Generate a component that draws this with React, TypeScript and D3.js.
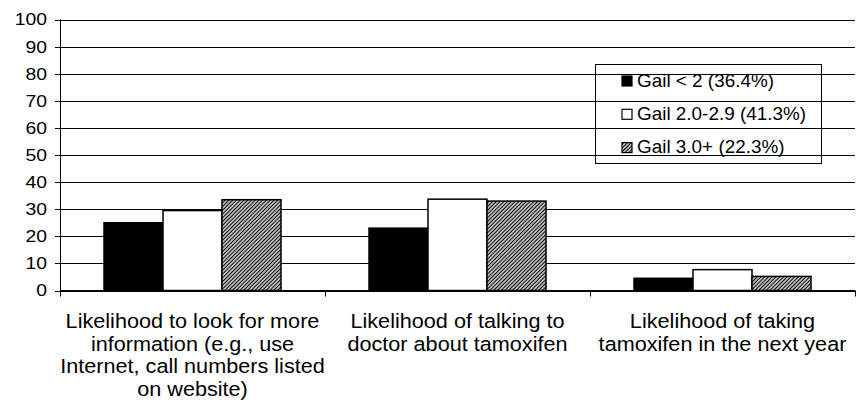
import React from 'react';
import * as d3 from 'd3';

const categories = ['look', 'talk', 'take'];
const categoryLines = [
  ['Likelihood to look for more', 'information (e.g., use', 'Internet, call numbers listed', 'on website)'],
  ['Likelihood of talking to', 'doctor about tamoxifen'],
  ['Likelihood of taking', 'tamoxifen in the next year'],
];
const seriesNames = ['Gail < 2 (36.4%)', 'Gail 2.0-2.9 (41.3%)', 'Gail 3.0+ (22.3%)'];
const gailLow = [25, 23, 4.5];
const gailMid = [29.5, 33.7, 7.7];
const gailHigh = [33.5, 33, 5.2];
const yTicks = [0, 10, 20, 30, 40, 50, 60, 70, 80, 90, 100];

const W = 857;
const H = 404;
const left = 60;
const right = 855;
const top = 19.5;
const bottom = 290.5;
const font = '"Liberation Sans", Arial, sans-serif';

export default function App() {
  const series = [gailLow, gailMid, gailHigh];
  const fills = ['#000', '#fff', 'url(#hatch)'];

  const x = d3.scaleBand().domain(categories).range([left, right]);
  const xSub = d3.scaleBand().domain(['0', '1', '2']).range([44, 221]);
  const y = d3.scaleLinear().domain([0, 100]).range([bottom, top]);

  const ticksX = [...categories.map((c) => x(c) as number), right];

  return (
    <svg width={W} height={H} style={{ position: 'absolute', left: 0, top: 0, background: '#fff' }}>
      <defs>
        <pattern id="hatch" patternUnits="userSpaceOnUse" width={2.65} height={4} patternTransform="rotate(45)">
          <rect width={2.65} height={4} fill="#fff" />
          <line x1={1.3} y1={0} x2={1.3} y2={4} stroke="#000" strokeWidth={1.35} />
        </pattern>
      </defs>

      {/* gridlines and y ticks */}
      {yTicks.map((t) => (
        <g key={t}>
          <line x1={left - 5} x2={right} y1={Math.round(y(t)) + 0.5} y2={Math.round(y(t)) + 0.5} stroke="#000" strokeWidth={1} />
          <text transform={`translate(47,${y(t)}) scale(1.14,1)`} dy="0.35em" textAnchor="end" fontFamily={font} fontSize={17}>{t}</text>
        </g>
      ))}

      {/* bars */}
      {categories.map((c, i) => (
        <g key={c} transform={`translate(${x(c)},0)`}>
          {series.map((s, j) => (
            <rect
              key={j}
              x={xSub(String(j))}
              y={y(s[i])}
              width={xSub.bandwidth()}
              height={y(0) - y(s[i])}
              fill={fills[j]}
              stroke="#000"
              strokeWidth={1.5}
            />
          ))}
        </g>
      ))}

      {/* axes */}
      <line x1={left + 0.5} x2={left + 0.5} y1={top} y2={bottom} stroke="#000" strokeWidth={1} />
      <line x1={left} x2={right} y1={bottom} y2={bottom} stroke="#000" strokeWidth={1.2} />
      {ticksX.map((tx, i) => (
        <line key={i} x1={tx + 0.5} x2={tx + 0.5} y1={bottom} y2={bottom + 6} stroke="#000" strokeWidth={1} />
      ))}

      {/* category labels */}
      {categories.map((c, i) => (
        <g key={c} transform={`translate(${(x(c) as number) + x.bandwidth() / 2},0) scale(1.11,1)`}>
          <text textAnchor="middle" fontFamily={font} fontSize={19.5} fill="#000">
            {categoryLines[i].map((line, k) => (
              <tspan key={k} x={0} y={328 + k * 22.7}>{line}</tspan>
            ))}
          </text>
        </g>
      ))}

      {/* legend */}
      <rect x={595.5} y={64.5} width={226} height={99} fill="none" stroke="#000" strokeWidth={1} />
      {seriesNames.map((name, j) => (
        <g key={name} transform={`translate(622,${76 + j * 33.3})`}>
          <rect x={0} y={0} width={10} height={10} fill={fills[j]} stroke="#000" strokeWidth={1.2} />
          <text transform="translate(15,10.5) scale(1.08,1)" fontFamily={font} fontSize={17.5} fill="#000">{name}</text>
        </g>
      ))}
    </svg>
  );
}
